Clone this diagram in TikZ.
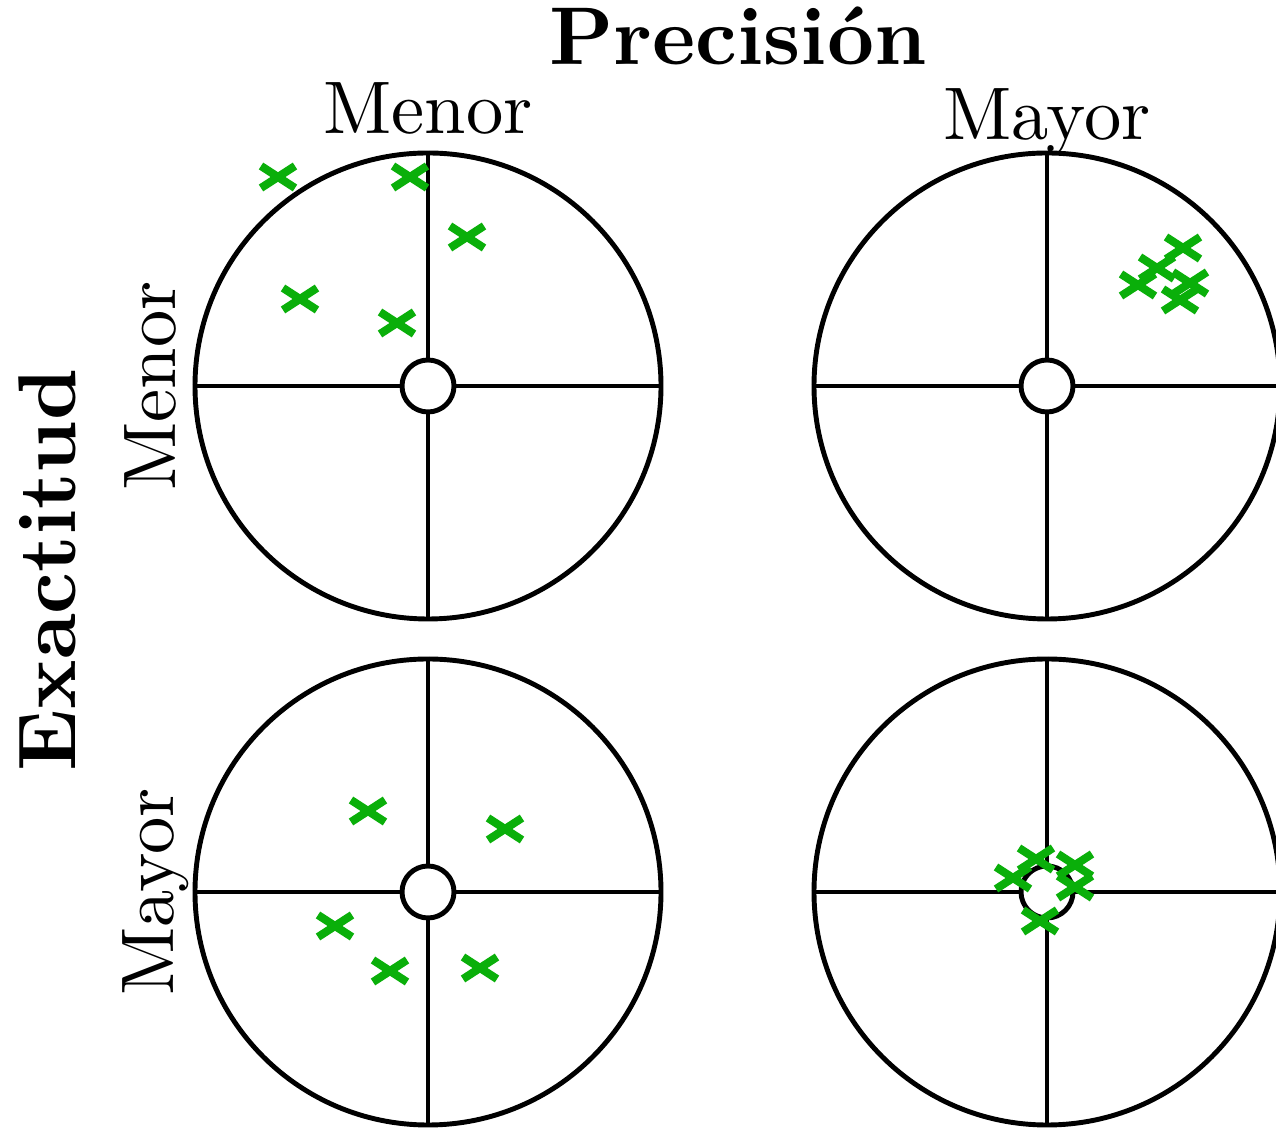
\documentclass[tikz,border=0pt]{standalone}
\usepackage{fontspec}
\setmainfont{lmroman10-regular.otf}[BoldFont=lmroman10-bold.otf]
\usepackage{tikz}

\definecolor{verdecroce}{RGB}{10,175,10}

\begin{document}
\begin{tikzpicture}[
                % Stile del bersaglio grande
                bersaglio/.style={
                    draw,
                    circle,
                    minimum size=4.66cm,
                    line width=1.4pt,
                    inner sep=0pt
                },
                % Stile del cerchio centrale
                centro/.style={
                    draw,
                    circle,
                    fill=white,
                    minimum size=0.52cm,
                    line width=1.4pt,
                    inner sep=0pt
                },
                % Stile degli assi
                asse/.style={line width=0.9pt},
                % Stile delle etichette
                titolo/.style={font=\fontsize{23.3}{26}\selectfont\bfseries},
                etichetta/.style={font=\fontsize{21.2}{24}\selectfont},
                % Croce verde
                croce/.pic={
                    \draw [verdecroce, line width=2.3pt] (-0.17,-0.11) -- (0.17,0.11) (-0.17,0.11) -- (0.17,-0.11);
                }
            ]

                \useasboundingbox (0,0) rectangle (12.76,11.29);

                % 1. Titoli
                \node [titolo, anchor=base] (precisione) at (7.38,10.64) {Precisión};
                \node [titolo, anchor=base, rotate=90] (esattezza) at (0.76,5.59) {Exactitud};
                \node [etichetta, anchor=base] (menoresup) at (4.28,9.95) {Menor};
                \node [etichetta, anchor=base] (maggioresup) at (10.47,9.89) {Mayor};
                \node [etichetta, anchor=base, rotate=90] (menoresin) at (1.75,7.43) {Menor};
                \node [etichetta, anchor=base, rotate=90] (maggioresin) at (1.73,2.37) {Mayor};

                % 2. Bersagli con assi e cerchio centrale
                \foreach \nome/\x/\y in {aa/4.28/7.43, ab/10.47/7.43, ba/4.28/2.37, bb/10.47/2.37} {
                    \node [bersaglio] (\nome) at (\x,\y) {};
                    \draw [asse] (\nome.north) -- (\nome.south);
                    \draw [asse] (\nome.west) -- (\nome.east);
                    \node [centro] (\nome c) at (\nome) {};
                }

                % 3. Colpi
                \foreach \dx/\dy in {-1.50/2.09, -0.18/2.09, 0.39/1.49, -1.28/0.87, -0.31/0.63}
                    \pic at ([shift={(\dx,\dy)}]aa.center) {croce};
                \foreach \dx/\dy in {1.36/1.38, 1.10/1.18, 0.91/1.01, 1.43/1.03, 1.33/0.86}
                    \pic at ([shift={(\dx,\dy)}]ab.center) {croce};
                \foreach \dx/\dy in {-0.60/0.81, 0.77/0.63, -0.93/-0.34, -0.38/-0.79, 0.52/-0.76}
                    \pic at ([shift={(\dx,\dy)}]ba.center) {croce};
                \foreach \dx/\dy in {-0.11/0.33, -0.34/0.14, 0.28/0.27, 0.28/0.05, -0.07/-0.29}
                    \pic at ([shift={(\dx,\dy)}]bb.center) {croce};

            \end{tikzpicture}
\end{document}
